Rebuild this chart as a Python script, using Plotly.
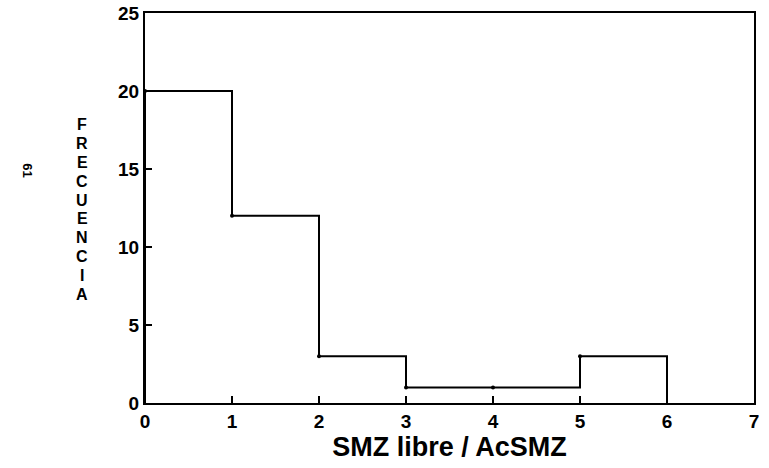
import plotly.graph_objects as go

# Data
bin_starts = [0, 1, 2, 3, 4, 5, 6]
frequencies = [20, 12, 3, 1, 1, 3, 0]
x_ticks = [0, 1, 2, 3, 4, 5, 6, 7]
y_ticks = [0, 5, 10, 15, 20, 25]
x_title = "SMZ libre / AcSMZ"
y_title = "FRECUENCIA"
page_number = "61"

FONT = "Liberation Sans, Arial, sans-serif"

fig = go.Figure()

# step outline (start at baseline at x=0)
fig.add_trace(go.Scatter(
    x=[bin_starts[0]] + bin_starts,
    y=[0] + frequencies,
    mode="lines",
    line=dict(shape="hv", color="black", width=2),
    hoverinfo="skip",
    showlegend=False,
))
# point markers at bin starts
fig.add_trace(go.Scatter(
    x=bin_starts[:-1],
    y=frequencies[:-1],
    mode="markers",
    marker=dict(color="black", size=4),
    showlegend=False,
))

fig.update_xaxes(
    range=[0, 7], tickvals=x_ticks, ticks="inside", ticklen=7, tickwidth=1.5,
    tickcolor="black", showline=True, linecolor="black", linewidth=2, mirror=True,
    showgrid=False, zeroline=False, automargin=False,
    tickfont=dict(family=FONT, size=19, color="black", weight="bold"),
    title=dict(text=x_title, font=dict(family=FONT, size=27, color="black", weight="bold"),
               standoff=2),
)
fig.update_yaxes(
    range=[0, 25], tickvals=y_ticks, ticks="inside", ticklen=7, tickwidth=1.5,
    tickcolor="black", showline=True, linecolor="black", linewidth=2, mirror=True,
    showgrid=False, zeroline=False, automargin=False,
    tickfont=dict(family=FONT, size=19, color="black", weight="bold"),
)

# stacked vertical y title, one letter per annotation
plot_top, plot_h = 13, 390
n = len(y_title)
top_px, bottom_px = 125, 294
for i, ch in enumerate(y_title):
    ypx = top_px + (bottom_px - top_px) * i / (n - 1)
    fig.add_annotation(
        text=ch, x=-0.103, y=1 - (ypx - plot_top) / plot_h,
        xref="paper", yref="paper", showarrow=False, xanchor="center", yanchor="middle",
        font=dict(family=FONT, size=16, color="black", weight="bold"),
    )

fig.add_annotation(
    text=page_number, x=-0.208, y=1 - (170 - plot_top) / plot_h,
    xref="paper", yref="paper", showarrow=False, textangle=90,
    font=dict(family=FONT, size=13, color="black", weight="bold"),
)

fig.update_layout(
    width=769, height=468,
    margin=dict(l=145, r=15, t=13, b=65),
    paper_bgcolor="white", plot_bgcolor="white",
    showlegend=False,
)

# remove the default 8px page margin so the figure fills the window exactly
fig.write_html("out.html", config={"displayModeBar": False},
               post_script="document.body.style.margin='0';")
